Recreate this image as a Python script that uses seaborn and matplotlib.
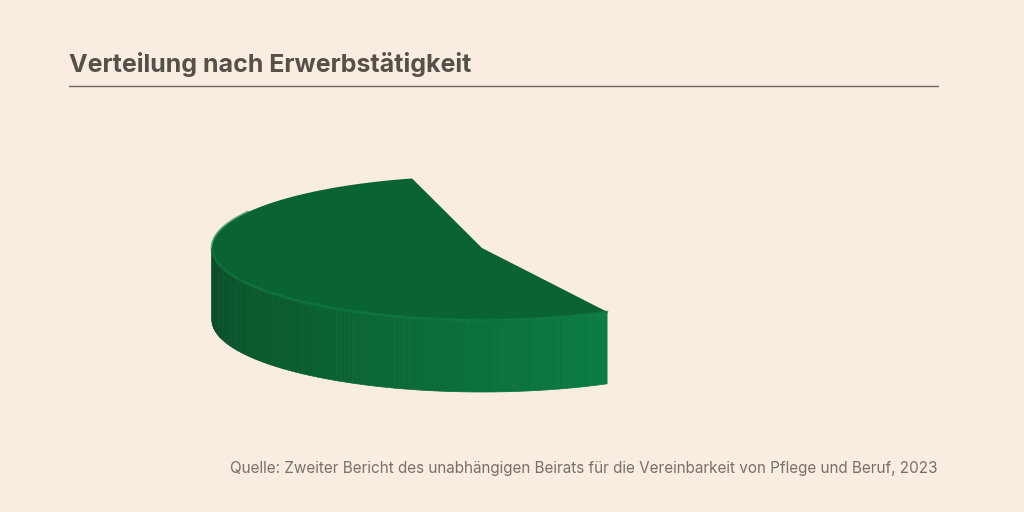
import numpy as np
import matplotlib
matplotlib.use("Agg")
import matplotlib.pyplot as plt
import seaborn as sns
from matplotlib.collections import PolyCollection

categories = ["Erwerbstätig", "Nicht erwerbstätig"]
values = [53.5, 46.5]
start_angle = 105.0
title = "Verteilung nach Erwerbstätigkeit"
source = "Quelle: Zweiter Bericht des unabhängigen Beirats für die Vereinbarkeit von Pflege und Beruf, 2023"

sns.set_theme(style="white")
plt.rcParams['font.family'] = ['Inter', 'DejaVu Sans']
bg = "#f9ede2"
fig = plt.figure(figsize=(10.24, 5.12), dpi=100, facecolor=bg)
ax = fig.add_axes([0, 0, 1, 1])
ax.set_facecolor(bg)
ax.set_xlim(0, 1024); ax.set_ylim(512, 0); ax.axis("off")

cx, cy, rx, ry, depth = 482, 248, 270, 72, 72
def pt(a, dy=0):
    r = np.radians(a)
    return cx + rx*np.cos(r), cy - ry*np.sin(r) + dy

a0 = start_angle
a1 = a0 + 360*values[0]/sum(values)
# side band, visible part 180..a1
side_angles = np.linspace(max(a0, 180), min(a1, 360), 120)
polys, cols = [], []
c_left = np.array(matplotlib.colors.to_rgb("#0a4a27"))
c_right = np.array(matplotlib.colors.to_rgb("#0b7d42"))
for i in range(len(side_angles)-1):
    s, e = side_angles[i], side_angles[i+1]
    p = [pt(s), pt(e), pt(e, depth), pt(s, depth)]
    polys.append(p)
    t = (s - side_angles[0])/(side_angles[-1]-side_angles[0])
    cols.append(c_left*(1-t) + c_right*t)
ax.add_collection(PolyCollection(polys, facecolors=cols, edgecolors=cols, linewidths=0.5))
# top surface
arc = np.linspace(a0, a1, 200)
top = [(cx, cy)] + [pt(a) for a in arc]
xs, ys = zip(*top)
ax.fill(xs, ys, color="#0a6334", lw=0)
# subtle rim highlight
rim = [pt(a) for a in np.linspace(max(a0,150), a1, 150)]
rx_, ry_ = zip(*rim)
ax.plot(rx_, ry_, color="#0f7a41", lw=2, alpha=0.6)

ax.text(69, 72, title, fontsize=18, fontweight="bold", color="#55504a")
ax.plot([69, 938], [86, 86], color="#6b6560", lw=1)
ax.text(938, 468, source, fontsize=11, color="#77716b", ha="right", va="center")
fig.savefig("out.png", dpi=100, facecolor=bg)
